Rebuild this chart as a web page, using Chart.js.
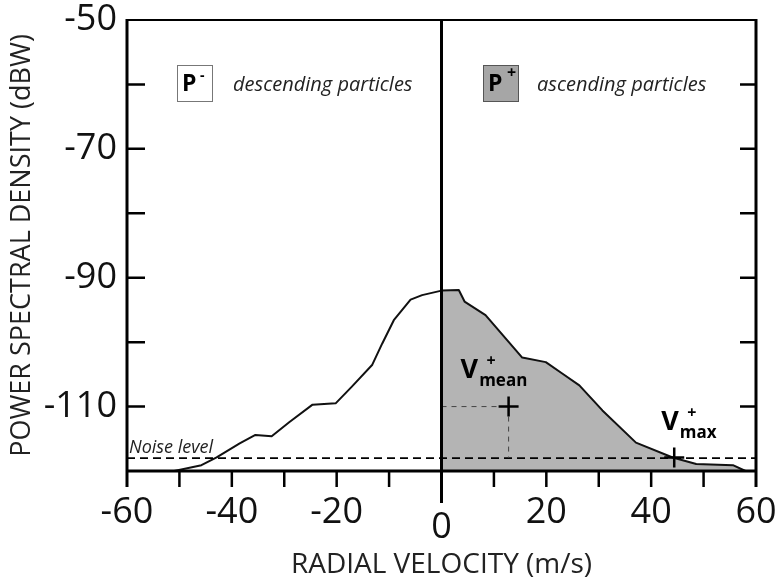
<!DOCTYPE html>
<html><head><meta charset="utf-8">
<script src="https://cdn.jsdelivr.net/npm/chart.js@4"></script>
<style>html,body{margin:0;padding:0;background:#fff}#wrap{width:776px;height:586px;position:relative}</style>
</head><body><div id="wrap"><canvas id="c" width="776" height="586"></canvas></div>
<script>
// ---- data ----
const negVelocity = [-51, -45.8, -42.9, -38.5, -35.5, -32.4, -29.0, -24.6, -20.2, -17.1, -13.2, -11.3, -9.1, -5.9, -3.7, 0];
const negPower    = [-120, -119.1, -117.9, -115.7, -114.4, -114.6, -112.4, -109.7, -109.5, -106.9, -103.5, -100.2, -96.6, -93.4, -92.7, -92.0];
const posVelocity = [0, 3.3, 4.4, 8.4, 15.4, 19.9, 23.1, 26.3, 30.7, 37.1, 44.1, 48.6, 55.6, 58];
const posPower    = [-92.0, -91.9, -93.7, -95.8, -102.4, -103.1, -104.9, -106.7, -110.6, -115.6, -117.9, -118.9, -119.1, -120];
const noiseLevel = -118;
const vMeanPoint = [12.8, -110];
const vMaxPoint = [44.4, -117.9];
const xTickLabels = [-60, -40, -20, 0, 20, 40, 60];
const yTickLabels = [-50, -70, -90, -110];
const xTickMarks = [-50, -40, -30, -20, -10, 10, 20, 30, 40, 50];
const yTickMarks = [-60, -70, -80, -90, -100, -110];
const xRange = [-60, 60];
const yRange = [-120, -50];

const pts = (xs, ys) => xs.map((v, i) => ({x: v, y: ys[i]}));
const FONT = "'Open Sans', 'Liberation Sans', sans-serif";

const framePlugin = {
  id: 'frame',
  afterDatasetsDraw(chart) {
    const {ctx, scales: {x, y}} = chart;
    const xl = x.getPixelForValue(xRange[0]), xr = x.getPixelForValue(xRange[1]);
    const yt = y.getPixelForValue(yRange[1]), yb = y.getPixelForValue(yRange[0]);
    const x0 = x.getPixelForValue(0);
    ctx.save();
    ctx.strokeStyle = '#000';
    ctx.lineWidth = 2;
    ctx.beginPath();
    ctx.moveTo(xl, yt); ctx.lineTo(xr, yt);
    ctx.stroke();
    ctx.lineWidth = 3;
    ctx.beginPath();
    ctx.moveTo(xl, yt - 1); ctx.lineTo(xl, yb + 16);
    ctx.moveTo(xr, yt - 1); ctx.lineTo(xr, yb + 16);
    ctx.moveTo(xl, yb); ctx.lineTo(xr, yb);
    ctx.moveTo(x0, yt - 1); ctx.lineTo(x0, yb + 32);
    ctx.stroke();
    ctx.lineWidth = 2.5;
    ctx.beginPath();
    yTickMarks.forEach(v => {
      const p = y.getPixelForValue(v);
      ctx.moveTo(xl, p); ctx.lineTo(xl + 18, p);
      ctx.moveTo(xr, p); ctx.lineTo(xr - 16, p);
    });
    xTickMarks.forEach(v => {
      const p = x.getPixelForValue(v);
      ctx.moveTo(p, yb); ctx.lineTo(p, yb + 16);
    });
    ctx.stroke();
    ctx.restore();
  },
  afterDraw(chart) {
    const {ctx, chartArea: a, scales: {x, y}} = chart;
    ctx.save();
    // zero label (sits lower, below the long zero line)
    ctx.fillStyle = '#111';
    ctx.font = `36px ${FONT}`;
    ctx.textAlign = 'center'; ctx.textBaseline = 'middle';
    ctx.fillText('0', x.getPixelForValue(0), 528);

    // P boxes
    ctx.lineWidth = 1;
    ctx.strokeStyle = '#777'; ctx.fillStyle = '#fff';
    ctx.fillRect(177.5, 65.5, 35, 36); ctx.strokeRect(177.5, 65.5, 35, 36);
    ctx.fillStyle = '#a6a6a6'; ctx.strokeStyle = '#555';
    ctx.fillRect(483.5, 65.5, 35, 36); ctx.strokeRect(483.5, 65.5, 35, 36);

    ctx.fillStyle = '#000';
    ctx.textAlign = 'left'; ctx.textBaseline = 'alphabetic';
    ctx.font = `bold 23px ${FONT}`;
    ctx.fillText('P', 182, 91);
    ctx.fillText('P', 488, 91);
    ctx.font = `bold 14px ${FONT}`;
    ctx.fillText('-', 200, 80);
    ctx.font = `bold 16px ${FONT}`;
    ctx.textAlign = 'center'; ctx.textBaseline = 'middle';
    ctx.fillText('+', 511.5, 73);
    ctx.textAlign = 'left';

    ctx.fillStyle = '#222';
    ctx.font = `italic 20px ${FONT}`;
    ctx.textBaseline = 'middle';
    ctx.fillText('descending particles', 233, 85);
    ctx.fillText('ascending particles', 537, 85);

    // Noise level label
    ctx.font = `italic 18px ${FONT}`;
    ctx.textBaseline = 'alphabetic';
    ctx.fillStyle = '#222';
    ctx.fillText('Noise level', a.left + 2, y.getPixelForValue(noiseLevel) - 5);

    // V labels
    const drawV = (px, py, sub) => {
      ctx.fillStyle = '#000';
      ctx.font = `bold 27px ${FONT}`;
      ctx.fillText('V', px, py);
      const w = ctx.measureText('V').width;
      ctx.font = `bold 17px ${FONT}`;
      ctx.fillText(sub, px + w + 1, py + 8);
      ctx.font = `bold 16px ${FONT}`;
      ctx.textAlign = 'center';
      ctx.fillText('+', px + w + 13, py - 12);
      ctx.textAlign = 'left';
    };
    const mx = x.getPixelForValue(vMeanPoint[0]), my = y.getPixelForValue(vMeanPoint[1]);
    drawV(mx - 48, my - 29, 'mean');
    const ax = x.getPixelForValue(vMaxPoint[0]), ay = y.getPixelForValue(vMaxPoint[1]);
    drawV(ax - 13, ay - 27, 'max');
    ctx.restore();
  }
};

new Chart(document.getElementById('c'), {
  type: 'line',
  data: {
    datasets: [
      { order: 5, data: pts(posVelocity, posPower), borderColor: '#111', borderWidth: 2, backgroundColor: '#b4b4b4', fill: 'start', pointRadius: 0, tension: 0 },
      { order: 4, data: pts(negVelocity, negPower), borderColor: '#111', borderWidth: 2, fill: false, pointRadius: 0, tension: 0 },
      { order: 3, data: pts(xRange, [noiseLevel, noiseLevel]), borderColor: '#000', borderWidth: 1.8, borderDash: [8, 5], fill: false, pointRadius: 0 },
      { order: 2, data: pts([0, vMeanPoint[0]], [vMeanPoint[1], vMeanPoint[1]]), borderColor: '#444', borderWidth: 1, borderDash: [5, 5], fill: false, pointRadius: 0 },
      { order: 2, data: pts([vMeanPoint[0], vMeanPoint[0]], [vMeanPoint[1], noiseLevel]), borderColor: '#444', borderWidth: 1, borderDash: [5, 5], fill: false, pointRadius: 0 },
      { order: 0, data: pts([vMeanPoint[0], vMaxPoint[0]], [vMeanPoint[1], vMaxPoint[1]]), showLine: false, pointStyle: 'cross', pointRadius: 10, pointBorderWidth: 2.5, pointBorderColor: '#000', borderColor: '#000', fill: false }
    ]
  },
  options: {
    responsive: false, animation: false, devicePixelRatio: 1,
    layout: { padding: { top: 20, right: 20, left: 0, bottom: 0 } },
    plugins: { legend: { display: false }, tooltip: { enabled: false }, filler: { propagate: false } },
    elements: { line: { borderJoinStyle: 'round' } },
    scales: {
      x: {
        type: 'linear', min: xRange[0], max: xRange[1],
        afterBuildTicks: s => { s.ticks = xTickLabels.map(v => ({value: v})); },
        afterFit: s => { s.height = 115; s.paddingLeft = 0; s.paddingRight = 0; },
        grid: { display: false, drawTicks: false }, border: { display: false },
        ticks: { padding: 20, color: '#111', font: { family: FONT, size: 36 }, maxRotation: 0, autoSkip: false,
                 callback: v => v === 0 ? '' : String(v) },
        title: { display: true, text: 'RADIAL VELOCITY (m/s)', color: '#222', font: { family: FONT, size: 28 }, padding: { top: 0, bottom: 4 } }
      },
      y: {
        type: 'linear', min: yRange[0], max: yRange[1],
        afterBuildTicks: s => { s.ticks = yTickLabels.map(v => ({value: v})); },
        afterFit: s => { s.width = 127; s.paddingTop = 0; s.paddingBottom = 0; },
        grid: { display: false, drawTicks: false }, border: { display: false },
        ticks: { padding: 10, color: '#111', font: { family: FONT, size: 36 }, autoSkip: false,
                 callback: v => String(v) },
        title: { display: true, text: 'POWER SPECTRAL DENSITY (dBW)', color: '#222', font: { family: FONT, size: 27 }, padding: { top: 6, bottom: 0 } }
      }
    }
  },
  plugins: [framePlugin]
});
</script></body></html>
